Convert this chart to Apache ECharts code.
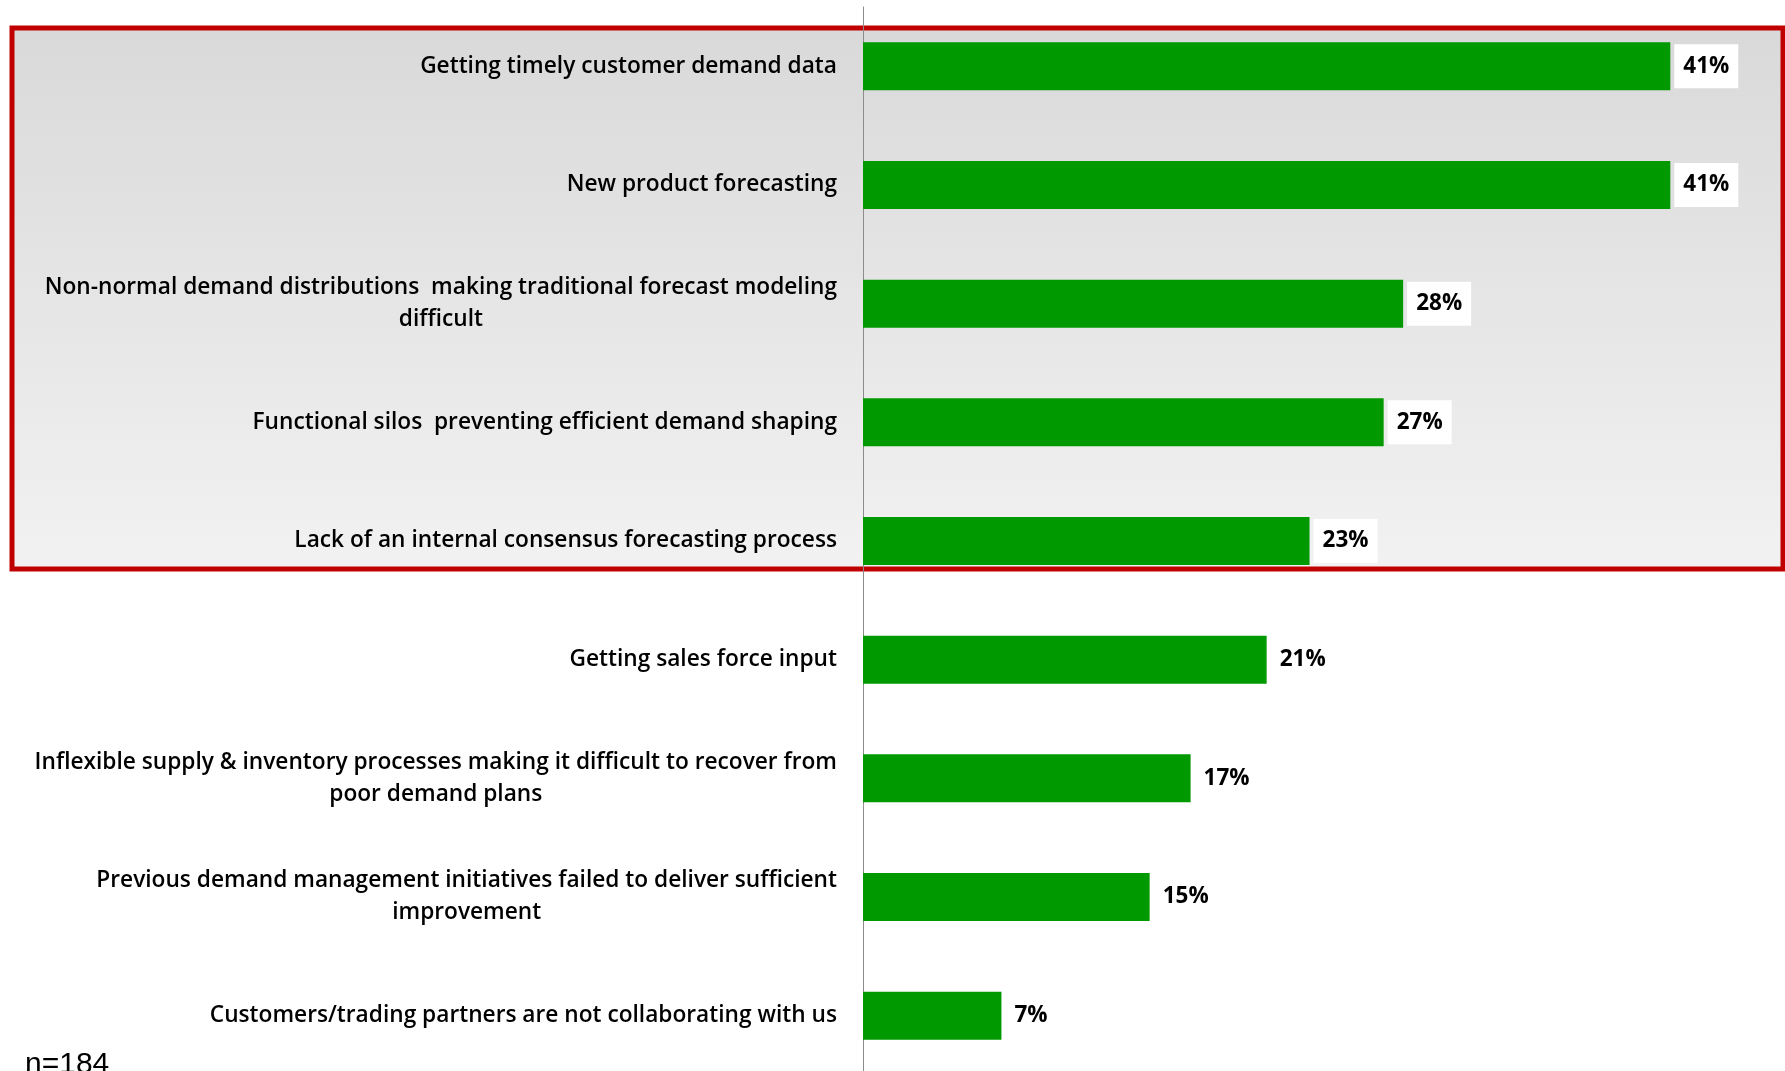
<!DOCTYPE html>
<html>
<head>
<meta charset="utf-8">
<title>Demand management challenges</title>
<script src="https://cdn.jsdelivr.net/npm/echarts@6/dist/echarts.min.js"></script>
<style>
    html, body { margin: 0; padding: 0; background: #fff; }
    #chart { width: 1785px; height: 1071px; }
</style>
</head>
<body>
<div id="chart"></div>
<script>
var categories = [
    'Getting timely customer demand data',
    'New product forecasting',
    'Non-normal demand distributions  making traditional forecast modeling\ndifficult',
    'Functional silos  preventing efficient demand shaping',
    'Lack of an internal consensus forecasting process',
    'Getting sales force input',
    'Inflexible supply & inventory processes making it difficult to recover from\npoor demand plans',
    'Previous demand management initiatives failed to deliver sufficient\nimprovement',
    'Customers/trading partners are not collaborating with us'
];
var values = [41.4, 41.4, 27.7, 26.7, 22.9, 20.7, 16.8, 14.7, 7.1];
var sampleNote = 'n=184';

var chart = echarts.init(document.getElementById('chart'));

var option = {
    backgroundColor: '#ffffff',
    animation: false,
    graphic: [{
        type: 'rect',
        z: -10,
        silent: true,
        shape: {x: 12, y: 28, width: 1771, height: 541},
        style: {
            fill: new echarts.graphic.LinearGradient(0, 0, 0, 1, [
                {offset: 0, color: '#d9d9d9'},
                {offset: 1, color: '#f2f2f2'}
            ]),
            stroke: '#c00000',
            lineWidth: 5
        }
    }, {
        type: 'text',
        left: 25,
        top: 1050,
        silent: true,
        style: {
            text: sampleNote,
            font: '30px "Liberation Sans Narrow", "Liberation Sans", sans-serif',
            fill: '#000'
        }
    }],
    // grid runs a little past the bottom edge, like the original
    grid: {left: 863, top: 7, width: 877.5, height: 1068, outerBoundsMode: 'none'},
    xAxis: {
        type: 'value',
        min: 0,
        max: 45,
        show: false
    },
    yAxis: {
        type: 'category',
        inverse: true,
        data: categories,
        axisLine: {lineStyle: {color: '#8c8c8c', width: 1}},
        axisTick: {length: 6, lineStyle: {color: '#8c8c8c'}},
        axisLabel: {
            interval: 0,
            margin: 26,
            formatter: function (v) {
                return '{c|' + v + '}';
            },
            rich: {
                c: {
                    align: 'center',
                    fontFamily: '"Open Sans"',
                    fontWeight: 600,
                    fontSize: 22.7,
                    lineHeight: 32,
                    color: '#000'
                }
            }
        }
    },
    series: [{
        type: 'bar',
        data: values,
        barWidth: 48,
        itemStyle: {color: '#009900'},
        label: {
            show: true,
            position: 'right',
            distance: 4,
            formatter: function (p) {
                return Math.round(p.value) + '%';
            },
            backgroundColor: '#ffffff',
            padding: [11, 9, 10, 9],
            fontFamily: '"Open Sans"',
            fontWeight: 'bold',
            fontSize: 22.5,
            color: '#000'
        }
    }]
};

chart.setOption(option);
</script>
</body>
</html>
